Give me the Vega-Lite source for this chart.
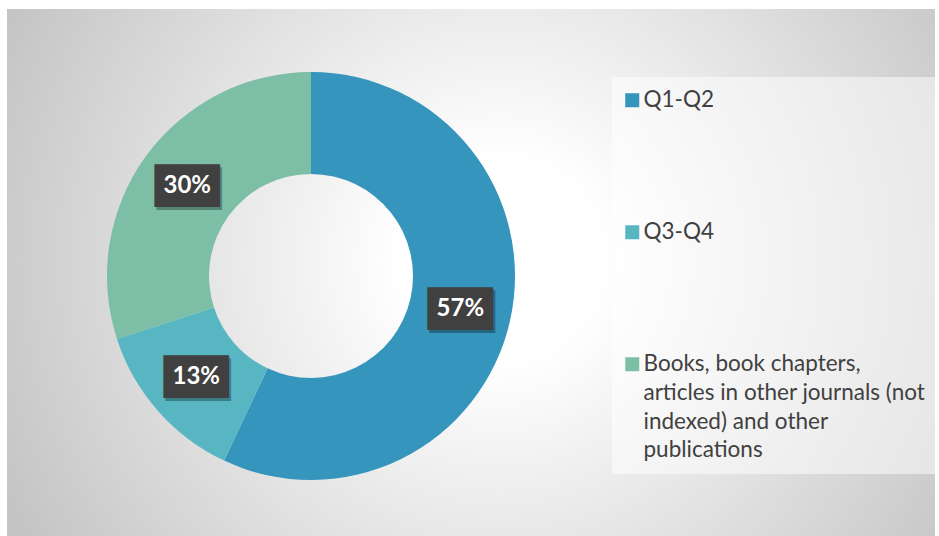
{
  "$schema": "https://vega.github.io/schema/vega-lite/v6.json",
  "background": "white",
  "padding": {"left": 7, "top": 9, "right": 0, "bottom": 0},
  "spacing": 0,
  "bounds": "flush",
  "datasets": {
    "pubs": [
      {"category": "Q1-Q2", "share": 0.57, "rank": 1},
      {"category": "Q3-Q4", "share": 0.13, "rank": 2},
      {"category": "Books, book chapters, articles in other journals (not indexed) and other publications", "share": 0.30, "rank": 3}
    ]
  },
  "hconcat": [
    {
      "width": 608,
      "height": 534,
      "view": {
        "stroke": null,
        "fill": {"gradient": "radial", "x1": 0.811, "y1": 0.474, "r1": 0.164, "x2": 0.811, "y2": 0.474, "r2": 0.905,
          "stops": [{"offset": 0, "color": "#ffffff"}, {"offset": 1, "color": "#c4c4c4"}]}
      },
      "data": {"name": "pubs"},
      "layer": [
        {
          "mark": {"type": "arc", "innerRadius": 102, "outerRadius": 204},
          "encoding": {
            "theta": {"field": "share", "type": "quantitative", "stack": true},
            "order": {"field": "rank", "type": "quantitative"},
            "color": {
              "field": "category", "type": "nominal",
              "scale": {
                "domain": ["Q1-Q2", "Q3-Q4", "Books, book chapters, articles in other journals (not indexed) and other publications"],
                "range": ["#3595BD", "#57B6C2", "#7CBFA6"]
              },
              "legend": {
                "orient": "none", "legendX": 605, "legendY": 68,
                "title": null,
                "symbolType": "square", "symbolSize": 196, "symbolStrokeWidth": 0, "symbolOffset": -3,
                "labelFont": "Lato", "labelFontSize": 22.5, "labelColor": "#404040",
                "labelOffset": 0, "labelLimit": 400,
                "rowPadding": 109, "padding": 12,
                "fillColor": "rgba(255,255,255,0.5)", "strokeColor": null,
                "labelExpr": "datum.label == 'Books, book chapters, articles in other journals (not indexed) and other publications' ? ['Books, book chapters,', 'articles in other journals (not', 'indexed) and other', 'publications'] : datum.label",
                "encode": {"labels": {"update": {"lineHeight": {"value": 28.7}}}}
              }
            }
          }
        },
        {
          "mark": {"type": "text", "radius": 153, "text": "███", "font": "DejaVu Sans Mono", "fontSize": 36, "color": "#000000", "opacity": 0.3, "dx": 2, "dy": 4, "baseline": "middle"},
          "encoding": {
            "theta": {"field": "share", "type": "quantitative", "stack": true},
            "order": {"field": "rank", "type": "quantitative"},
            "detail": {"field": "category", "type": "nominal"}
          }
        },
        {
          "mark": {"type": "text", "radius": 153, "text": "███", "font": "DejaVu Sans Mono", "fontSize": 36, "color": "#404040", "dy": 1, "baseline": "middle"},
          "encoding": {
            "theta": {"field": "share", "type": "quantitative", "stack": true},
            "order": {"field": "rank", "type": "quantitative"},
            "detail": {"field": "category", "type": "nominal"}
          }
        },
        {
          "mark": {"type": "text", "radius": 153, "font": "Lato", "fontWeight": "bold", "fontSize": 24, "color": "#ffffff", "baseline": "middle"},
          "encoding": {
            "theta": {"field": "share", "type": "quantitative", "stack": true},
            "order": {"field": "rank", "type": "quantitative"},
            "detail": {"field": "category", "type": "nominal"},
            "text": {"field": "share", "type": "quantitative", "format": ".0%"}
          }
        }
      ]
    },
    {
      "width": 320,
      "height": 534,
      "view": {
        "stroke": null,
        "fill": {"gradient": "radial", "x1": -0.015, "y1": 0.47, "r1": 0.187, "x2": -0.015, "y2": 0.47, "r2": 1.03,
          "stops": [{"offset": 0, "color": "#ffffff"}, {"offset": 1, "color": "#c4c4c4"}]}
      },
      "data": {"values": []},
      "mark": "point"
    }
  ]
}
